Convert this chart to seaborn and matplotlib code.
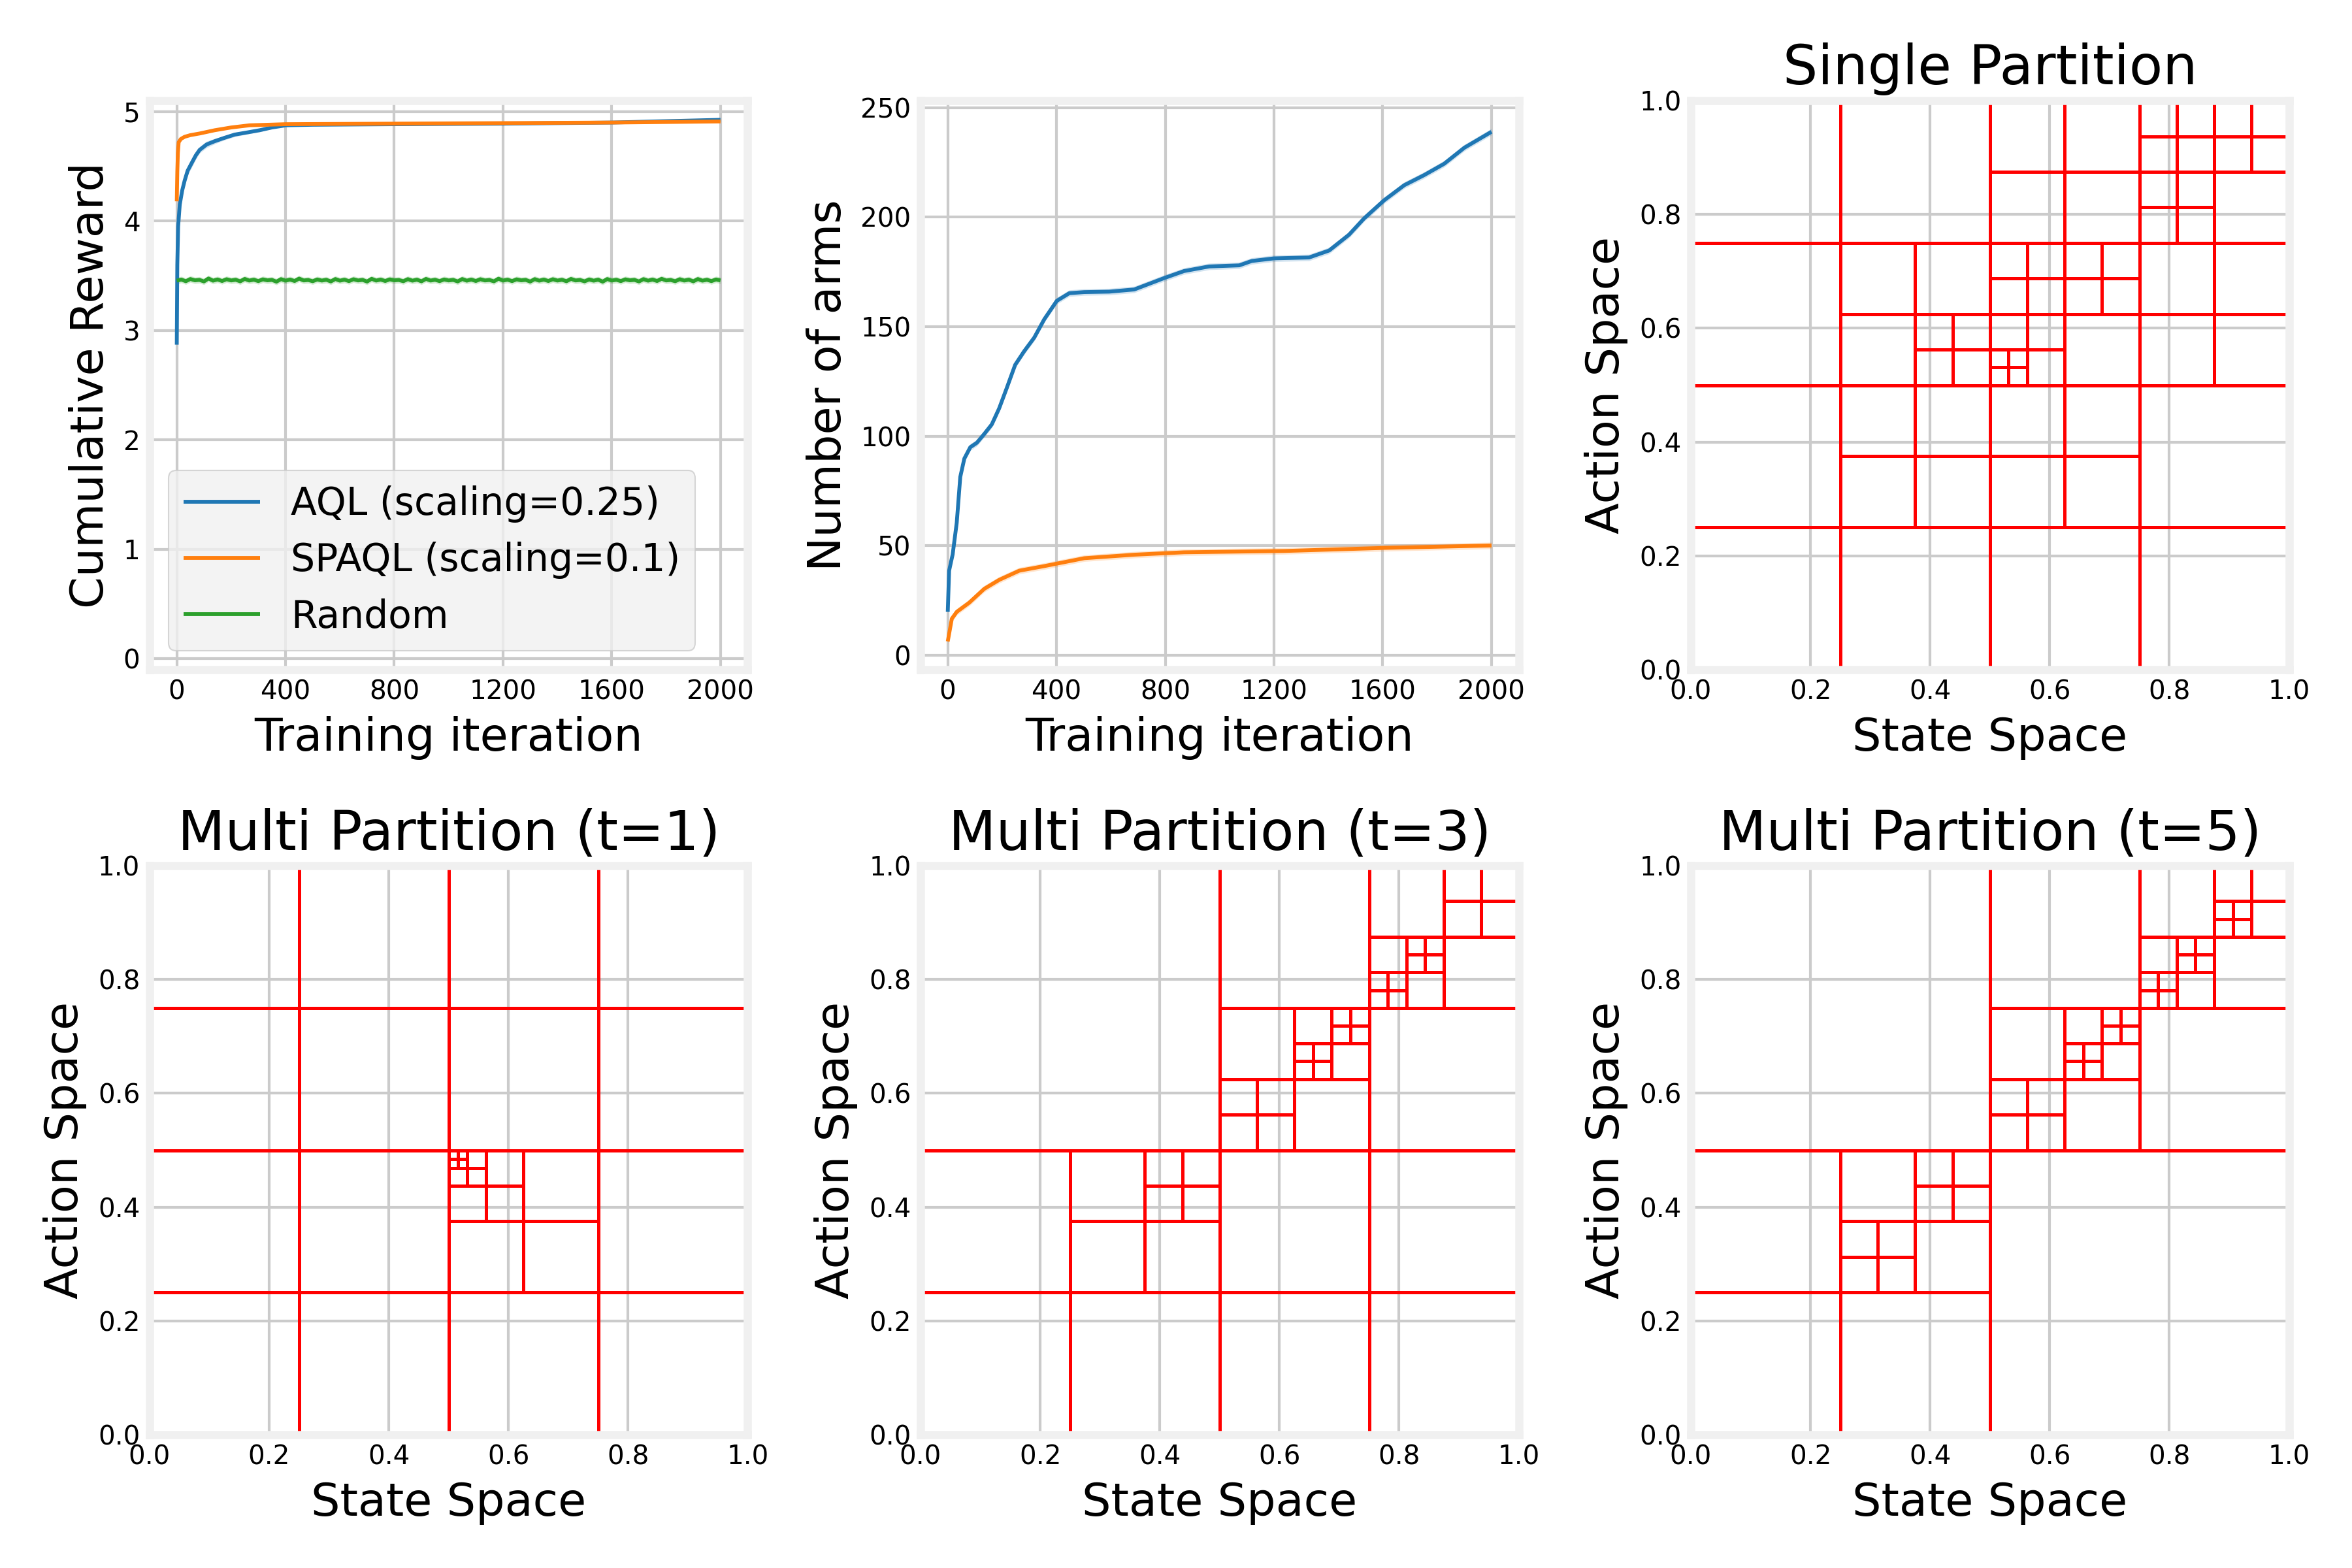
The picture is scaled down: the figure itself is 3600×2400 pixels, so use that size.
import numpy as np
import matplotlib
matplotlib.use('Agg')
import matplotlib.pyplot as plt
import seaborn as sns

# ---- cumulative reward ----
aql_iter = [0, 2, 5, 11, 20, 29, 40, 57, 70, 84, 110, 140, 175, 213, 260, 305, 350, 402, 500, 800, 1200, 1600, 2000]
aql_reward = [2.87, 3.6, 3.95, 4.15, 4.28, 4.37, 4.46, 4.54, 4.6, 4.65, 4.7, 4.73, 4.76, 4.79, 4.81, 4.83, 4.855,
              4.875, 4.88, 4.885, 4.89, 4.9, 4.925]
aql_reward_ci = [0.08, 0.08, 0.07, 0.06, 0.05, 0.05, 0.04, 0.04, 0.035, 0.03, 0.03, 0.025, 0.02, 0.02, 0.015,
                 0.015, 0.01, 0.01, 0.008, 0.006, 0.006, 0.006, 0.006]

spaql_iter = [0, 2, 4, 7, 15, 29, 50, 84, 140, 200, 268, 400, 800, 1200, 1600, 2000]
spaql_reward = [4.18, 4.45, 4.62, 4.72, 4.75, 4.77, 4.785, 4.80, 4.83, 4.855, 4.875, 4.885, 4.89, 4.895, 4.9, 4.91]
spaql_reward_ci = [0.03, 0.03, 0.02, 0.015, 0.012, 0.01, 0.01, 0.008, 0.006, 0.005, 0.005, 0.004, 0.004, 0.004,
                   0.004, 0.004]

random_reward = [3.455, 3.465, 3.450, 3.470, 3.458, 3.462, 3.448, 3.475, 3.455, 3.466, 3.452, 3.468, 3.457, 3.463,
                 3.449, 3.471, 3.456, 3.464, 3.451, 3.467, 3.458, 3.462, 3.446, 3.469, 3.455, 3.465, 3.452, 3.474,
                 3.457, 3.461, 3.450, 3.466, 3.456, 3.463, 3.448, 3.470, 3.455, 3.464, 3.451, 3.468, 3.457, 3.462,
                 3.447, 3.472, 3.456, 3.465, 3.452, 3.467, 3.458, 3.461, 3.450, 3.469, 3.455, 3.464, 3.449, 3.471,
                 3.456, 3.463, 3.451, 3.466, 3.457, 3.462, 3.448, 3.470, 3.455, 3.465, 3.452, 3.468, 3.457, 3.461,
                 3.449, 3.473, 3.456, 3.464, 3.451, 3.467, 3.458, 3.462, 3.447, 3.469, 3.455, 3.465, 3.452, 3.468,
                 3.456, 3.463, 3.450, 3.471, 3.457, 3.461, 3.449, 3.466, 3.455, 3.464, 3.446, 3.470, 3.456, 3.463,
                 3.451, 3.467, 3.458, 3.462, 3.448, 3.469, 3.455, 3.465, 3.452, 3.472, 3.457, 3.461, 3.450, 3.468,
                 3.456, 3.464, 3.449, 3.470, 3.455, 3.463, 3.451, 3.466, 3.457]
random_iter = np.linspace(0, 2000, len(random_reward))

# ---- number of arms ----
aql_arm_iter = [0, 5, 18, 33, 46, 61, 83, 107, 134, 162, 189, 217, 248, 281, 318, 355, 401, 447, 502, 594, 686,
                796, 869, 961, 1072, 1118, 1200, 1329, 1403, 1476, 1531, 1605, 1679, 1752, 1826, 1900, 2000]
aql_arms = [19.8, 38.6, 46, 60.5, 81.4, 89.8, 95, 97, 101, 105.4, 112.7, 122, 132.6, 138.8, 145, 153.4, 161.8,
            165.3, 165.8, 166, 167, 172.2, 175.4, 177.5, 178, 180, 181.2, 181.6, 184.8, 192, 199.4, 207.7, 214.6,
            219.2, 224.4, 231.7, 239]

spaql_arm_iter = [0, 15, 33, 79, 134, 189, 263, 355, 400, 502, 686, 869, 1237, 1605, 2000]
spaql_arms = [6.3, 16.7, 19.8, 24, 30.3, 34.4, 38.6, 40.7, 41.8, 44.3, 45.9, 47, 47.6, 49, 50.1]
arms_ci = 1.5

# ---- partitions: boxes that were split, as (x0, y0, side) ----
single_splits = [(0, 0, 1),
                 (0, 0, 0.5), (0.5, 0, 0.5), (0, 0.5, 0.5), (0.5, 0.5, 0.5),
                 (0.25, 0.25, 0.25), (0.25, 0.5, 0.25), (0.5, 0.25, 0.25), (0.5, 0.5, 0.25),
                 (0.5, 0.75, 0.25), (0.75, 0.5, 0.25), (0.75, 0.75, 0.25),
                 (0.375, 0.5, 0.125), (0.5, 0.5, 0.125), (0.5, 0.625, 0.125), (0.625, 0.625, 0.125),
                 (0.75, 0.875, 0.125), (0.75, 0.75, 0.125), (0.875, 0.875, 0.125),
                 (0.5, 0.5, 0.0625)]

multi_t1_splits = [(0, 0, 1),
                   (0, 0, 0.5), (0.5, 0, 0.5), (0, 0.5, 0.5), (0.5, 0.5, 0.5),
                   (0.5, 0.25, 0.25),
                   (0.5, 0.375, 0.125),
                   (0.5, 0.4375, 0.0625),
                   (0.5, 0.46875, 0.03125)]

multi_t3_splits = [(0, 0, 1),
                   (0, 0, 0.5), (0.5, 0, 0.5), (0.5, 0.5, 0.5),
                   (0.25, 0.25, 0.25), (0.5, 0.5, 0.25), (0.75, 0.75, 0.25),
                   (0.375, 0.375, 0.125), (0.5, 0.5, 0.125), (0.625, 0.625, 0.125),
                   (0.75, 0.75, 0.125), (0.875, 0.875, 0.125),
                   (0.625, 0.625, 0.0625), (0.6875, 0.6875, 0.0625), (0.75, 0.75, 0.0625),
                   (0.8125, 0.8125, 0.0625)]

multi_t5_splits = [(0, 0, 1),
                   (0, 0, 0.5), (0.5, 0.5, 0.5),
                   (0.25, 0.25, 0.25), (0.5, 0.5, 0.25), (0.75, 0.75, 0.25),
                   (0.25, 0.25, 0.125), (0.375, 0.375, 0.125), (0.5, 0.5, 0.125), (0.625, 0.625, 0.125),
                   (0.75, 0.75, 0.125), (0.875, 0.875, 0.125),
                   (0.625, 0.625, 0.0625), (0.6875, 0.6875, 0.0625), (0.75, 0.75, 0.0625),
                   (0.8125, 0.8125, 0.0625), (0.875, 0.875, 0.0625)]

BLUE, ORANGE, GREEN = '#1f77b4', '#ff7f0e', '#2ca02c'

plt.style.use('fivethirtyeight')
plt.rcParams.update({
    'axes.facecolor': 'white',
    'figure.facecolor': 'white',
    'savefig.facecolor': 'white',
    'savefig.edgecolor': 'white',
    'axes.edgecolor': '#f0f0f0',
    'axes.linewidth': 3.0,
    'font.family': ['DejaVu Sans'],
    'font.size': 14,
    'axes.labelsize': 16.8,
    'axes.titlesize': 20.16,
    'xtick.labelsize': 9.72,
    'ytick.labelsize': 9.72,
    'legend.fontsize': 14,
    'lines.linewidth': 1.4,
    'grid.color': '#cbcbcb',
    'grid.linewidth': 1.0,
    'xtick.major.size': 0,
    'ytick.major.size': 0,
})

fig = plt.figure(figsize=(12, 8), dpi=300)
# axes rectangles (figure fractions) matching the reference grid
top_b, bot_b, h = 0.5729, 0.0850, 0.3629
col_l = [0.0636, 0.3914, 0.7189]
w = 0.2543
ax1 = fig.add_axes([col_l[0], top_b, w, h])
ax2 = fig.add_axes([col_l[1], top_b, w, h])
ax3 = fig.add_axes([col_l[2], top_b, w, h])
ax4 = fig.add_axes([col_l[0], bot_b, w, h])
ax5 = fig.add_axes([col_l[1], bot_b, w, h])
ax6 = fig.add_axes([col_l[2], bot_b, w, h])


def band(ax, x, y, ci, color):
    y = np.asarray(y, dtype=float)
    ax.fill_between(x, y - ci, y + ci, color=color, alpha=0.2, lw=0)


# cumulative reward
band(ax1, aql_iter, aql_reward, np.asarray(aql_reward_ci), BLUE)
sns.lineplot(x=aql_iter, y=aql_reward, color=BLUE, label='AQL (scaling=0.25)', ax=ax1)
band(ax1, spaql_iter, spaql_reward, np.asarray(spaql_reward_ci), ORANGE)
sns.lineplot(x=spaql_iter, y=spaql_reward, color=ORANGE, label='SPAQL (scaling=0.1)', ax=ax1)
band(ax1, random_iter, random_reward, 0.03, GREEN)
sns.lineplot(x=random_iter, y=random_reward, color=GREEN, label='Random', ax=ax1)
ax1.set_ylim(-0.1, 5.1)
ax1.set_xticks([0, 400, 800, 1200, 1600, 2000])
ax1.set_xlabel('Training iteration')
ax1.set_ylabel('Cumulative Reward')
ax1.legend(loc='lower left', facecolor='#f0f0f0', edgecolor='#cccccc', framealpha=0.8, fancybox=True)

# number of arms
band(ax2, aql_arm_iter, aql_arms, arms_ci, BLUE)
sns.lineplot(x=aql_arm_iter, y=aql_arms, color=BLUE, ax=ax2)
band(ax2, spaql_arm_iter, spaql_arms, arms_ci, ORANGE)
sns.lineplot(x=spaql_arm_iter, y=spaql_arms, color=ORANGE, ax=ax2)
ax2.set_ylim(-6.6, 253.2)
ax2.set_xticks([0, 400, 800, 1200, 1600, 2000])
ax2.set_xlabel('Training iteration')
ax2.set_ylabel('Number of arms')


def draw_partition(ax, splits, title):
    for x0, y0, s in splits:
        cx, cy = x0 + s / 2, y0 + s / 2
        ax.plot([cx, cx], [y0, y0 + s], color='red', lw=1.2, solid_capstyle='butt')
        ax.plot([x0, x0 + s], [cy, cy], color='red', lw=1.2, solid_capstyle='butt')
    ax.set_xlim(0, 1)
    ax.set_ylim(0, 1)
    ax.set_title(title)
    ax.set_xlabel('State Space')
    ax.set_ylabel('Action Space')


draw_partition(ax3, single_splits, 'Single Partition')
draw_partition(ax4, multi_t1_splits, 'Multi Partition (t=1)')
draw_partition(ax5, multi_t3_splits, 'Multi Partition (t=3)')
draw_partition(ax6, multi_t5_splits, 'Multi Partition (t=5)')

fig.savefig('out.png', dpi=300)
